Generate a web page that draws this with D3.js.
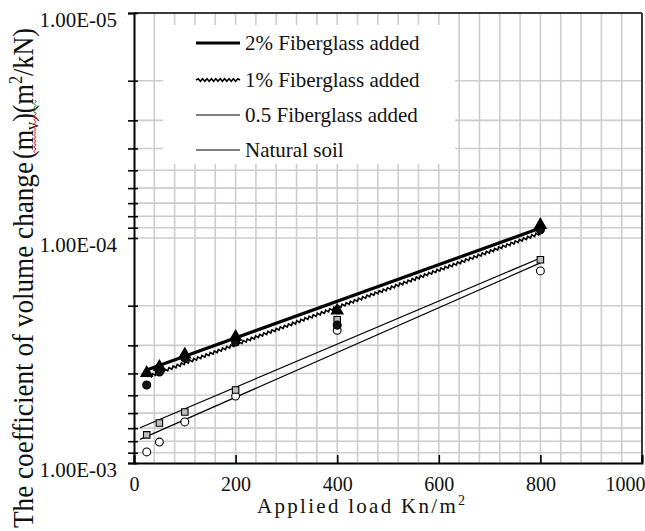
<!DOCTYPE html>
<html>
<head>
<meta charset="utf-8">
<script src="https://cdn.jsdelivr.net/npm/d3@7/dist/d3.min.js"></script>
<style>
  html, body { margin: 0; padding: 0; background: #fff; }
  svg { display: block; }
</style>
</head>
<body>
<svg id="chart" width="645" height="531"></svg>
<script>
// Applied loads (kN/m²) and measured coefficient of volume change mv (m²/kN)
const loads = [25, 50, 100, 200, 400, 800];
const mv2pct = [3.98e-4, 3.74e-4, 3.30e-4, 2.75e-4, 2.10e-4, 8.75e-5];
const mv1pct = [4.50e-4, 3.94e-4, 3.42e-4, 2.90e-4, 2.44e-4, 9.20e-5];
const mv05pct = [7.50e-4, 6.64e-4, 5.93e-4, 4.74e-4, 2.31e-4, 1.25e-4];
const mvNatural = [8.93e-4, 8.07e-4, 6.57e-4, 5.04e-4, 2.57e-4, 1.40e-4];

// Exponential trend lines: start/end load and fitted mv at those loads
const seriesNames = ["2% Fiberglass added", "1% Fiberglass added", "0.5 Fiberglass added", "Natural soil"];
const fitLoadStart = [25, 25, 12, 12];
const fitLoadEnd = [800, 800, 800, 800];
const fitMvStart = [3.86e-4, 4.15e-4, 6.97e-4, 7.85e-4];
const fitMvEnd = [9.03e-5, 9.50e-5, 1.227e-4, 1.29e-4];

// Axis ticks
const xMajorTicks = [0, 200, 400, 600, 800, 1000];
const xGridValues = d3.range(40, 1000, 40);
const yMajorTicks = [1e-5, 1e-4, 1e-3];
const yTickLabels = ["1.00E-05", "1.00E-04", "1.00E-03"];
const yMinorTicks = [2,3,4,5,6,7,8,9].map(d => d * 1e-5).concat([2,3,4,5,6,7,8,9].map(d => d * 1e-4));

const FONT = "'Liberation Serif', 'Times New Roman', Times, serif";
const INK = "#111";

const svg = d3.select("#chart");
const L = 134, R = 642, T = 13, B = 463;

const x = d3.scaleLinear().domain([0, 1000]).range([L, R]);
const y = d3.scaleLog().domain([1e-5, 1e-3]).range([T, B]);

// grid
const grid = svg.append("g");
grid.selectAll("line.v").data(xGridValues).join("line")
  .attr("x1", d => x(d)).attr("x2", d => x(d)).attr("y1", T).attr("y2", B)
  .attr("stroke", "#cdcdcd").attr("stroke-width", 1.6);
grid.selectAll("line.h").data(yMinorTicks.concat([1e-4])).join("line")
  .attr("x1", L).attr("x2", R).attr("y1", d => y(d)).attr("y2", d => y(d))
  .attr("stroke", "#cdcdcd").attr("stroke-width", 1.6);

// legend background hides the grid behind it
svg.append("rect").attr("x", 163).attr("y", 25).attr("width", 292).attr("height", 139).attr("fill", "#fff");

// frame (top / right)
svg.append("line").attr("x1", L).attr("x2", R).attr("y1", T).attr("y2", T).attr("stroke", "#3a3a3a").attr("stroke-width", 2);
svg.append("line").attr("x1", R).attr("x2", R).attr("y1", T).attr("y2", B).attr("stroke", "#3a3a3a").attr("stroke-width", 2);

// y axis
const yAxis = d3.axisLeft(y).tickValues(yMajorTicks.concat(yMinorTicks)).tickSize(6)
  .tickFormat(d => { const i = yMajorTicks.indexOf(d); return i >= 0 ? yTickLabels[i] : ""; });
const gy = svg.append("g").attr("transform", `translate(${L},0)`).call(yAxis)
  .attr("font-family", FONT).attr("font-size", 21);
gy.select(".domain").attr("stroke", "#000").attr("stroke-width", 2);
gy.selectAll(".tick line").attr("x1", 4).attr("x2", -6).attr("stroke", "#000").attr("stroke-width", 1.6);
gy.selectAll(".tick text").attr("x", -17).attr("dy", "0.66em").attr("fill", INK);

// x axis
const xAxis = d3.axisBottom(x).tickValues(xMajorTicks).tickSize(-8).tickFormat(d3.format("d"));
const gx = svg.append("g").attr("transform", `translate(0,${B})`).call(xAxis)
  .attr("font-family", FONT).attr("font-size", 20);
gx.select(".domain").attr("stroke", "#000").attr("stroke-width", 2);
gx.selectAll(".tick line").attr("stroke", "#000").attr("stroke-width", 1.6);
gx.selectAll(".tick text").attr("y", 28).attr("dy", 0).attr("fill", INK);
// the last label is pulled inside the page edge
gx.selectAll(".tick text").filter(d => d === 1000).attr("text-anchor", "end").attr("x", 3);

// wavy path helper along a straight screen segment
function wavyPoints(x0, y0, x1, y1, step, amp) {
  const len = Math.hypot(x1 - x0, y1 - y0);
  const n = Math.max(2, Math.round(len / step));
  const ux = (x1 - x0) / len, uy = (y1 - y0) / len;
  const px = -uy, py = ux;
  const pts = [];
  for (let i = 0; i <= n; i++) {
    const t = i / n;
    const s = (i % 2 === 0 ? 1 : -1) * amp * (i === 0 || i === n ? 0 : 1);
    pts.push([x0 + (x1 - x0) * t + px * s, y0 + (y1 - y0) * t + py * s]);
  }
  return pts;
}

const lineStyles = [
  { width: 3.2, wavy: false },
  { width: 1.6, wavy: true },
  { width: 1.2, wavy: false },
  { width: 1.2, wavy: false }
];

// trend lines
const trend = svg.append("g");
seriesNames.forEach((name, i) => {
  const x0 = x(fitLoadStart[i]), y0 = y(fitMvStart[i]);
  const x1 = x(fitLoadEnd[i]), y1 = y(fitMvEnd[i]);
  const st = lineStyles[i];
  const pts = st.wavy ? wavyPoints(x0, y0, x1, y1, 2.2, 1.3) : [[x0, y0], [x1, y1]];
  trend.append("path")
    .attr("d", d3.line()(pts))
    .attr("fill", "none").attr("stroke", "#000").attr("stroke-width", st.width);
});

// markers
const pts = svg.append("g");
const seriesValues = [mv2pct, mv1pct, mv05pct, mvNatural];
const symbols = [
  { type: d3.symbolTriangle, size: 60, fill: "#000", stroke: "#000" },
  { type: d3.symbolCircle, size: 50, fill: "#111", stroke: "#000" },
  { type: d3.symbolSquare, size: 42, fill: "#bdbdbd", stroke: "#000" },
  { type: d3.symbolCircle, size: 48, fill: "#fff", stroke: "#000" }
];
// lower series first so the filled markers sit on top
[3, 2, 1, 0].forEach(i => {
  const s = symbols[i];
  pts.selectAll(null).data(loads.map((l, j) => [l, seriesValues[i][j]])).join("path")
    .attr("transform", d => `translate(${x(d[0])},${y(d[1])})`)
    .attr("d", d3.symbol().type(s.type).size(s.size))
    .attr("fill", s.fill).attr("stroke", s.stroke).attr("stroke-width", 1.1);
});

// legend
const legendRowY = [43, 80, 115, 150];
const legend = svg.append("g");
seriesNames.forEach((name, i) => {
  const st = lineStyles[i];
  const yy = legendRowY[i];
  const p = st.wavy ? wavyPoints(196, yy, 240, yy, 2.2, 1.3) : [[196, yy], [240, yy]];
  legend.append("path").attr("d", d3.line()(p)).attr("fill", "none")
    .attr("stroke", "#000").attr("stroke-width", st.width);
  legend.append("text").attr("x", 245).attr("y", yy + 7)
    .attr("font-family", FONT).attr("font-size", 21).attr("fill", INK).text(name);
});

// x axis title
const xt = svg.append("text").attr("x", 257).attr("y", 513)
  .attr("textLength", 208).attr("lengthAdjust", "spacing")
  .attr("font-family", FONT).attr("font-size", 21).attr("fill", INK);
xt.append("tspan").text("Applied load Kn/m");
xt.append("tspan").attr("dy", -8).attr("font-size", 14).text("2");

// y axis title, in two runs along the rotated baseline
const yt1 = svg.append("text").attr("transform", "translate(33,528) rotate(-90)")
  .attr("textLength", 366).attr("lengthAdjust", "spacingAndGlyphs")
  .attr("font-family", FONT).attr("font-size", 29).attr("fill", INK)
  .text("The coefficient of volume change");
const yt2 = svg.append("text").attr("transform", "translate(33,159) rotate(-90)")
  .attr("textLength", 131).attr("lengthAdjust", "spacingAndGlyphs")
  .attr("font-family", FONT).attr("font-size", 29).attr("fill", INK);
yt2.append("tspan").text("(m");
yt2.append("tspan").attr("dy", 5).attr("font-size", 18).text("v");
yt2.append("tspan").attr("dy", -5).text(")(m");
yt2.append("tspan").attr("dy", -11).attr("font-size", 18).text("2");
yt2.append("tspan").attr("dy", 11).text("/kN)");

// proofing underlines beneath "(mv)"
const squiggle = (x0, y0, y1) => wavyPoints(x0, y0, x0, y1, 2, 1.2);
svg.append("path").attr("d", d3.line()(squiggle(35, 153, 112)))
  .attr("fill", "none").attr("stroke", "#e02020").attr("stroke-width", 1);
svg.append("path").attr("d", d3.line()(squiggle(35, 113, 100)))
  .attr("fill", "none").attr("stroke", "#2a9a2a").attr("stroke-width", 1);
</script>
</body>
</html>
